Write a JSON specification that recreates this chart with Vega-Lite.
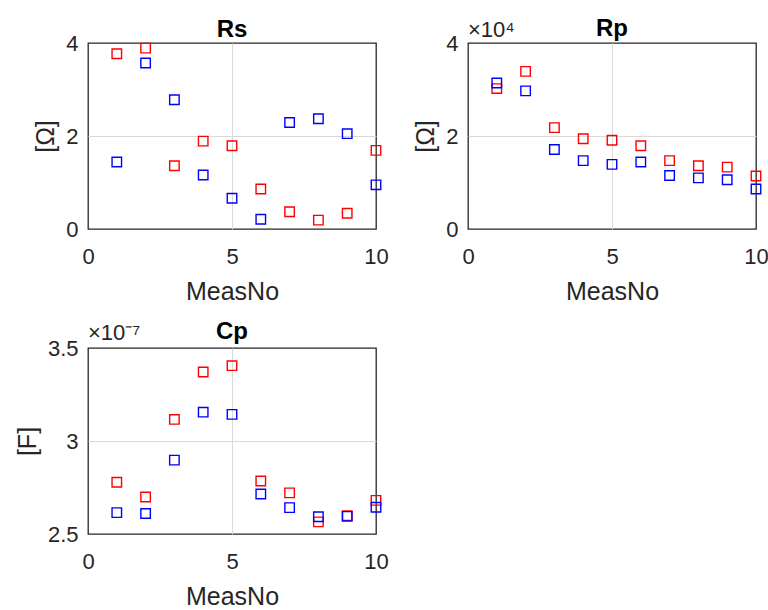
{
  "$schema": "https://vega.github.io/schema/vega-lite/v6.json",
  "padding": {"left": 14, "top": 16, "right": 10, "bottom": 6},
  "background": "white",
  "config": {
    "font": "Liberation Sans",
    "view": {"stroke": "#262626", "strokeWidth": 1.3},
    "axis": {
      "labelFont": "Liberation Sans",
      "labelFontSize": 22,
      "labelColor": "#262626",
      "labelFlush": false,
      "titleFont": "Liberation Sans",
      "titleFontSize": 25,
      "titleFontWeight": "normal",
      "titleColor": "#262626",
      "domain": false,
      "ticks": false,
      "grid": true,
      "gridColor": "#d9d9d9",
      "gridWidth": 1,
      "gridOpacity": {"condition": {"test": "datum.index > 0 && datum.index < 1", "value": 1}, "value": 0}
    },
    "axisX": {"labelPadding": 17, "titlePadding": 12},
    "axisY": {"labelPadding": 10, "titlePadding": 7},
    "title": {"font": "Liberation Sans", "fontSize": 24, "fontWeight": "bold", "color": "#000000", "offset": -10}
  },
  "datasets": {
    "rs": [
      {"MeasNo": 1, "series": "1", "value": 3.77},
      {"MeasNo": 2, "series": "1", "value": 3.89},
      {"MeasNo": 3, "series": "1", "value": 1.36},
      {"MeasNo": 4, "series": "1", "value": 1.89},
      {"MeasNo": 5, "series": "1", "value": 1.79},
      {"MeasNo": 6, "series": "1", "value": 0.86},
      {"MeasNo": 7, "series": "1", "value": 0.37},
      {"MeasNo": 8, "series": "1", "value": 0.19},
      {"MeasNo": 9, "series": "1", "value": 0.34},
      {"MeasNo": 10, "series": "1", "value": 1.69},
      {"MeasNo": 1, "series": "2", "value": 1.44},
      {"MeasNo": 2, "series": "2", "value": 3.57},
      {"MeasNo": 3, "series": "2", "value": 2.78},
      {"MeasNo": 4, "series": "2", "value": 1.16},
      {"MeasNo": 5, "series": "2", "value": 0.66},
      {"MeasNo": 6, "series": "2", "value": 0.21},
      {"MeasNo": 7, "series": "2", "value": 2.29},
      {"MeasNo": 8, "series": "2", "value": 2.37},
      {"MeasNo": 9, "series": "2", "value": 2.05},
      {"MeasNo": 10, "series": "2", "value": 0.95}
    ],
    "rp": [
      {"MeasNo": 1, "series": "1", "value": 30200},
      {"MeasNo": 2, "series": "1", "value": 33900},
      {"MeasNo": 3, "series": "1", "value": 21800},
      {"MeasNo": 4, "series": "1", "value": 19400},
      {"MeasNo": 5, "series": "1", "value": 19100},
      {"MeasNo": 6, "series": "1", "value": 17900},
      {"MeasNo": 7, "series": "1", "value": 14700},
      {"MeasNo": 8, "series": "1", "value": 13600},
      {"MeasNo": 9, "series": "1", "value": 13300},
      {"MeasNo": 10, "series": "1", "value": 11400},
      {"MeasNo": 1, "series": "2", "value": 31400},
      {"MeasNo": 2, "series": "2", "value": 29700},
      {"MeasNo": 3, "series": "2", "value": 17100},
      {"MeasNo": 4, "series": "2", "value": 14700},
      {"MeasNo": 5, "series": "2", "value": 13900},
      {"MeasNo": 6, "series": "2", "value": 14400},
      {"MeasNo": 7, "series": "2", "value": 11500},
      {"MeasNo": 8, "series": "2", "value": 11000},
      {"MeasNo": 9, "series": "2", "value": 10600},
      {"MeasNo": 10, "series": "2", "value": 8600}
    ],
    "cp": [
      {"MeasNo": 1, "series": "1", "value": 2.778e-7},
      {"MeasNo": 2, "series": "1", "value": 2.699e-7},
      {"MeasNo": 3, "series": "1", "value": 3.116e-7},
      {"MeasNo": 4, "series": "1", "value": 3.371e-7},
      {"MeasNo": 5, "series": "1", "value": 3.405e-7},
      {"MeasNo": 6, "series": "1", "value": 2.785e-7},
      {"MeasNo": 7, "series": "1", "value": 2.721e-7},
      {"MeasNo": 8, "series": "1", "value": 2.565e-7},
      {"MeasNo": 9, "series": "1", "value": 2.599e-7},
      {"MeasNo": 10, "series": "1", "value": 2.681e-7},
      {"MeasNo": 1, "series": "2", "value": 2.615e-7},
      {"MeasNo": 2, "series": "2", "value": 2.610e-7},
      {"MeasNo": 3, "series": "2", "value": 2.897e-7},
      {"MeasNo": 4, "series": "2", "value": 3.155e-7},
      {"MeasNo": 5, "series": "2", "value": 3.143e-7},
      {"MeasNo": 6, "series": "2", "value": 2.715e-7},
      {"MeasNo": 7, "series": "2", "value": 2.642e-7},
      {"MeasNo": 8, "series": "2", "value": 2.593e-7},
      {"MeasNo": 9, "series": "2", "value": 2.595e-7},
      {"MeasNo": 10, "series": "2", "value": 2.644e-7}
    ]
  },
  "columns": 2,
  "spacing": {"column": 92, "row": 119},
  "bounds": "flush",
  "concat": [
    {
      "width": 288,
      "height": 186,
      "title": "Rs",
      "data": {"name": "rs"},
      "mark": {"type": "point", "shape": "square", "filled": false, "size": 90, "strokeWidth": 1.4, "opacity": 1},
      "encoding": {
        "x": {"field": "MeasNo", "type": "quantitative", "scale": {"domain": [0, 10], "nice": false}, "axis": {"values": [0, 5, 10], "title": "MeasNo"}},
        "y": {"field": "value", "type": "quantitative", "scale": {"domain": [0, 4], "nice": false, "zero": false}, "axis": {"values": [0, 2, 4], "title": "[Ω]"}},
        "color": {"field": "series", "type": "nominal", "scale": {"domain": ["1", "2"], "range": ["#ff0000", "#0000ff"]}, "legend": null}
      }
    },
    {
      "width": 288,
      "height": 186,
      "title": {"text": "Rp", "offset": -22},
      "data": {"name": "rp"},
      "layer": [
        {
          "mark": {"type": "point", "shape": "square", "filled": false, "size": 90, "strokeWidth": 1.4, "opacity": 1},
          "encoding": {
            "x": {"field": "MeasNo", "type": "quantitative", "scale": {"domain": [0, 10], "nice": false}, "axis": {"values": [0, 5, 10], "title": "MeasNo"}},
            "y": {"field": "value", "type": "quantitative", "scale": {"domain": [0, 40000], "nice": false, "zero": false}, "axis": {"values": [0, 20000, 40000], "labelExpr": "format(datum.value / 1e4, '~g')", "title": "[Ω]"}},
            "color": {"field": "series", "type": "nominal", "scale": {"domain": ["1", "2"], "range": ["#ff0000", "#0000ff"]}, "legend": null}
          }
        },
        {
          "data": {"values": [{"label": "×10⁴"}]},
          "mark": {"type": "text", "align": "left", "baseline": "alphabetic", "dy": -6, "fontSize": 22, "color": "#262626"},
          "encoding": {
            "x": {"datum": 0, "type": "quantitative"},
            "y": {"datum": 40000, "type": "quantitative"},
            "text": {"field": "label"}
          }
        }
      ]
    },
    {
      "width": 288,
      "height": 186,
      "title": {"text": "Cp", "offset": -22},
      "data": {"name": "cp"},
      "layer": [
        {
          "mark": {"type": "point", "shape": "square", "filled": false, "size": 90, "strokeWidth": 1.4, "opacity": 1},
          "encoding": {
            "x": {"field": "MeasNo", "type": "quantitative", "scale": {"domain": [0, 10], "nice": false}, "axis": {"values": [0, 5, 10], "title": "MeasNo"}},
            "y": {"field": "value", "type": "quantitative", "scale": {"domain": [2.5e-7, 3.5e-7], "nice": false, "zero": false}, "axis": {"values": [2.5e-7, 3e-7, 3.5e-7], "labelExpr": "format(datum.value * 1e7, '.2~f')", "title": "[F]"}},
            "color": {"field": "series", "type": "nominal", "scale": {"domain": ["1", "2"], "range": ["#ff0000", "#0000ff"]}, "legend": null}
          }
        },
        {
          "data": {"values": [{"label": "×10⁻⁷"}]},
          "mark": {"type": "text", "align": "left", "baseline": "alphabetic", "dy": -8, "fontSize": 22, "color": "#262626"},
          "encoding": {
            "x": {"datum": 0, "type": "quantitative"},
            "y": {"datum": 3.5e-7, "type": "quantitative"},
            "text": {"field": "label"}
          }
        }
      ]
    }
  ]
}
